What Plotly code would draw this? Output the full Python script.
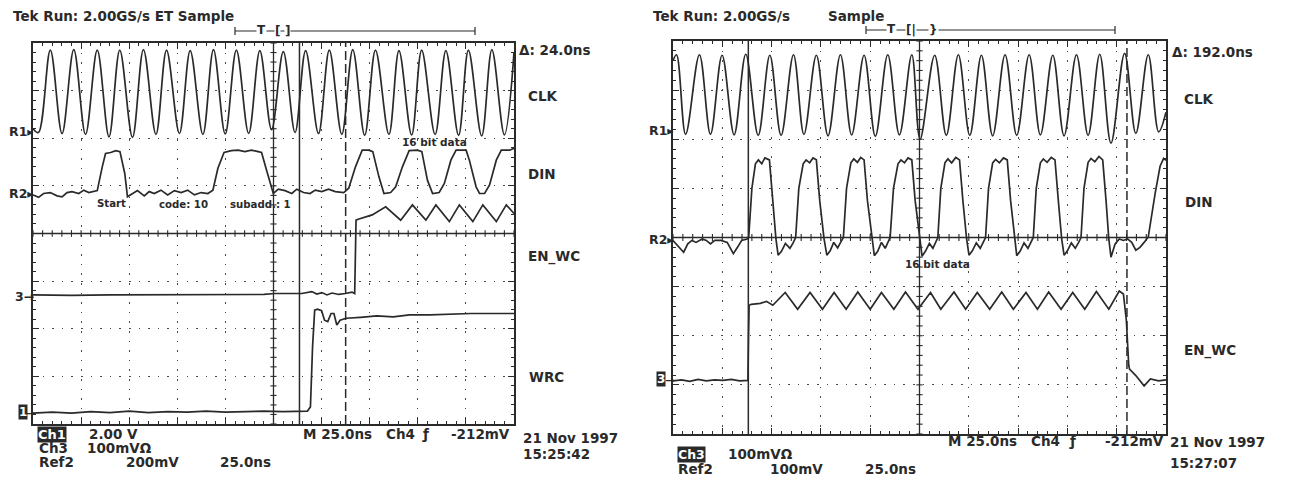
import numpy as np
import plotly.graph_objects as go

W, H = 1290, 481
OFF = 8                      # the page body margin that the browser puts round the figure
FW, FH = W - OFF, H - OFF    # figure size that fits the window exactly
INK = "#2a2a2a"
FONT = "DejaVu Sans"

# ---------------- data (time in ns, 25 ns/div; amplitude in screen divisions, centre = 0) -------------
# Left capture: Tek Run 2.00GS/s ET Sample
L_CLK_T = [0, 2.8, 9.0, 15.1, 21.2, 27.3, 33.4, 39.5, 45.1, 51.7, 57.4, 63.9, 69.4, 76.1, 81.7, 88.3,
           93.8, 99.9, 105.7, 112.1, 117.9, 124.0, 130.1, 136.2, 141.7, 148.4, 154.0, 160.5, 166.2,
           172.4, 178.0, 185.0, 190.2, 196.8, 202.0, 209.0, 214.6, 221.2, 226.3, 233.2, 238.5, 245.0, 250]
L_CLK_V = [2.20, 2.12, 3.85, 2.10, 3.86, 2.08, 3.85, 2.03, 3.85, 2.02, 3.86, 2.08, 3.85, 2.10, 3.84, 2.08,
           3.86, 2.09, 3.85, 2.10, 3.84, 2.18, 3.82, 2.12, 3.84, 2.10, 3.85, 2.08, 3.86,
           2.06, 3.85, 2.08, 3.84, 2.07, 3.85, 2.08, 3.84, 2.06, 3.85, 2.05, 3.86, 2.07, 3.80]

L_DIN_T = [0, 2.9, 5.5, 9.0, 12.5, 15.1, 17.7, 20.3, 23.8, 26.4, 29.0, 33.4, 36.0, 37.7, 40.4, 43.0,
           45.2, 47.7, 49.1, 51.7, 54.3, 57.8, 60.4, 63.0, 66.5, 70.0, 73.5, 77.0, 80.4, 83.9, 87.4,
           90.9, 93.5, 96.1, 99.3, 103.1, 106.6, 110.1, 113.5, 117.0, 118.8, 121.4, 124.9, 127.5,
           131.0, 134.5, 137.1, 140.6, 144.0, 146.7, 150.1, 153.6, 157.1, 161.5, 164.1, 167.6, 171.1,
           174.5, 176.6, 179.8, 182.4, 185.9, 188.5, 192.0, 195.5, 199.8, 202.1, 205.0, 207.7, 211.1,
           213.8, 217.2, 219.9, 225.1, 226.8, 230.3, 232.1, 234.7, 237.3, 240.8, 243.4, 247.7, 250]
L_DIN_V = [0.81, 0.76, 0.84, 0.86, 0.79, 0.77, 0.86, 0.88, 0.84, 0.91, 0.86, 0.90, 1.40, 1.68, 1.70, 1.74,
           1.72, 1.26, 0.77, 0.84, 0.90, 0.79, 0.88, 0.84, 0.91, 0.81, 0.90, 0.86, 0.91, 0.81, 0.86,
           0.84, 0.91, 1.37, 1.70, 1.74, 1.75, 1.72, 1.75, 1.72, 1.70, 1.33, 0.84, 0.93,
           0.90, 0.84, 0.93, 0.86, 0.84, 0.91, 0.88, 0.93, 0.88, 0.86, 0.95, 1.40, 1.75,
           1.75, 1.72, 1.19, 0.84, 0.86, 0.98, 1.40, 1.74, 1.75, 1.72, 1.12, 0.84, 0.86,
           1.05, 1.54, 1.75, 1.75, 1.54, 0.98, 0.84, 0.84, 1.02, 1.54, 1.75, 1.75, 1.79]

L_EN_T = [0, 20, 40, 60, 80, 100, 120, 125.8, 139.7, 144.9, 147.5, 150.1, 152.8, 155.4, 158.9, 162.3,
          165.8, 167.2, 167.9, 169.0, 172.8, 176.3, 183.3, 191.1, 197.2, 204.2, 209.4, 216.4, 221.6,
          228.6, 233.8, 240.8, 246.0, 250]
L_EN_V = [-1.29, -1.30, -1.29, -1.29, -1.28, -1.29, -1.28, -1.26, -1.26, -1.22, -1.27, -1.24, -1.29, -1.25,
          -1.28, -1.26, -1.23, -1.26, 0.28, 0.30, 0.34, 0.39, 0.56, 0.28, 0.60, 0.28, 0.60, 0.25, 0.60,
          0.25, 0.60, 0.25, 0.60, 0.42]

L_WRC_T = [0, 10, 20, 30, 40, 50, 60, 70, 80, 90, 100, 110, 120, 130, 139.3, 142.6, 144.2, 145.3, 146.4,
           147.9, 150.0, 151.5, 153.2, 154.9, 156.4, 157.9, 159.6, 162.8, 170.2, 178.7, 187.2, 195.7,
           206.3, 217.0, 227.6, 238.3, 250]
L_WRC_V = [-3.77, -3.75, -3.77, -3.74, -3.76, -3.73, -3.76, -3.74, -3.75, -3.73, -3.75, -3.74, -3.73, -3.74,
           -3.74, -3.73, -3.64, -2.38, -1.61, -1.59, -1.62, -1.82, -1.85, -1.68, -1.68, -1.92, -1.82,
           -1.78, -1.76, -1.73, -1.75, -1.71, -1.71, -1.69, -1.68, -1.68, -1.68]

L_CURSORS = [138.5, 162.5]          # ns  (Δ: 24.0ns)

# Right capture: Tek Run 2.00GS/s Sample
R_CLK_T = [0, 1.8, 6.4, 13.4, 19.0, 24.9, 31.0, 36.9, 43.2, 49.1, 54.8, 61.1, 66.4, 72.7, 78.6, 84.9,
           90.6, 96.9, 102.6, 108.9, 114.8, 121.1, 125.3, 132.7, 138.6, 144.7, 150.5, 156.4, 162.1,
           168.4, 174.3, 180.6, 186.3, 192.6, 198.3, 204.6, 210.5, 216.4, 222.1, 229.0, 234.7, 241.0,
           246.3, 250]
R_CLK_V = [3.60, 3.72, 2.10, 3.72, 2.10, 3.71, 2.09, 3.73, 2.08, 3.71, 2.08, 3.72, 2.10, 3.71, 2.07, 3.72,
           2.09, 3.71, 2.06, 3.72, 2.09, 3.72, 2.00, 3.71, 2.08, 3.72, 2.08, 3.71, 2.07,
           3.72, 2.08, 3.72, 2.09, 3.71, 2.07, 3.72, 2.08, 3.73, 1.92, 3.75, 2.12, 3.72,
           2.15, 2.55]

R_DIN_T = [0, 3.3, 5.4, 7.5, 9.6, 11.7, 14.8, 16.9, 19.0, 21.2, 24.3, 27.5, 30.6, 32.7, 34.8, 37.6, 38.4,
           40.0, 41.8, 43.3, 45.0, 46.6, 48.9, 50.6, 52.2, 53.3, 55.0, 57.0, 59.3, 60.8, 62.2,
           63.8, 66.0, 67.5, 69.3, 71.0, 72.7, 74.4, 76.6, 78.0, 79.7, 81.5, 83.5, 85.0, 86.4,
           88.0, 90.2, 91.7, 93.5, 95.2, 96.9, 98.6, 100.8, 102.1, 103.8, 105.7, 107.6, 109.0, 110.1,
           111.8, 114.1, 115.6, 117.4, 119.2, 121.1, 122.8, 125.0, 126.3, 128.0, 130.0, 131.8, 133.2, 134.3,
           135.8, 137.9, 139.4, 141.3, 143.4, 145.3, 147.0, 148.9, 150.1, 151.8, 153.8, 155.8, 157.3, 158.5,
           160.0, 162.1, 163.6, 165.5, 167.6, 169.5, 171.2, 173.1, 174.3, 176.0, 178.0, 180.0, 181.5, 182.7,
           184.2, 186.3, 187.8, 189.7, 191.8, 193.7, 195.4, 197.1, 198.3, 200.0, 202.0, 204.0, 205.7, 206.9,
           208.4, 210.5, 212.0, 213.9, 216.0, 217.9, 219.6, 221.0, 222.1, 224.2, 226.3, 228.4, 230.5,
           232.6, 234.7, 236.8, 238.9, 241.0, 244.5, 247.0, 248.8, 250]
R_DIN_V = [-0.06, -0.20, -0.30, -0.13, -0.06, -0.10, -0.03, -0.06, -0.13, -0.06, -0.06, -0.10, -0.33, -0.20,
           -0.06, -0.03, 0.01,
           1.00, 1.50, 1.58, 1.50, 1.62, 1.58, 0.75, -0.03, -0.36, -0.28, -0.12, -0.22, -0.12, 0.00,
           1.00, 1.50, 1.58, 1.52, 1.62, 1.58, 0.75, -0.03, -0.36, -0.27, -0.10, -0.21, -0.10, 0.00,
           1.00, 1.52, 1.60, 1.53, 1.63, 1.58, 0.75, -0.03, -0.37, -0.28, -0.10, -0.22, -0.10, 0.00,
           1.00, 1.50, 1.58, 1.52, 1.62, 1.58, 0.75, -0.03, -0.38, -0.28, -0.12, -0.22, -0.10, 0.00,
           1.00, 1.52, 1.60, 1.52, 1.63, 1.58, 0.75, -0.03, -0.36, -0.27, -0.11, -0.22, -0.10, 0.00,
           1.00, 1.52, 1.59, 1.52, 1.62, 1.58, 0.75, -0.03, -0.37, -0.28, -0.11, -0.22, -0.10, 0.00,
           1.00, 1.52, 1.60, 1.53, 1.63, 1.58, 0.75, -0.03, -0.36, -0.27, -0.11, -0.22, -0.10, 0.00,
           1.00, 1.53, 1.61, 1.54, 1.65, 1.58, 0.75, -0.03, -0.40, -0.13, -0.03, -0.06, -0.03,
           -0.10, -0.26, -0.20, -0.10, 0.01, 0.90, 1.45, 1.61, 1.57]

R_EN_T = [0, 4.3, 8.5, 12.7, 16.9, 21.1, 25.3, 29.6, 33.8, 38.0,
          38.3, 38.6, 39.7, 44.3, 47.4, 50.6,
          56.9, 63.2, 69.5, 75.8, 81.7, 87.8, 93.7, 100.0, 105.7, 112.0, 117.9, 124.2, 130.6, 135.8,
          142.5, 148.4, 154.3, 160.6, 166.7, 172.6, 179.0, 184.8, 190.5, 196.8, 202.7, 208.8, 214.7,
          221.0, 226.3,
          228.4, 229.9, 230.5, 231.1, 231.5, 234.7, 238.9, 242.1, 246.3, 250]
R_EN_V = [-2.92, -2.90, -2.93, -2.89, -2.92, -2.90, -2.91, -2.89, -2.92, -2.91,
          -2.00, -1.38, -1.36, -1.34, -1.30, -1.38,
          -1.12, -1.46, -1.12, -1.46, -1.12, -1.46, -1.11, -1.46, -1.12, -1.46, -1.11, -1.46, -1.12, -1.46,
          -1.11, -1.46, -1.12, -1.46, -1.11, -1.46, -1.12, -1.46, -1.11, -1.46, -1.12, -1.46, -1.10,
          -1.46, -1.09,
          -1.15, -1.69, -2.24, -2.60, -2.68, -2.81, -3.02, -2.88, -2.92, -2.90]

R_CURSORS = [38.2, 230.2]           # ns  (Δ: 192.0ns)

T_SPAN, TIME_PER_DIV, V_HALF = 250, 25, 4


def px(x):
    return (x - OFF) / FW


def py(y):
    return 1 - (y - OFF) / FH


# ---------------- figure -------------
fig = go.Figure()

panels = [
    dict(xa="x", ya="y", dom_x=(33, 514), dom_y=(43, 424),
         traces=[(L_CLK_T, L_CLK_V, "spline"), (L_DIN_T, L_DIN_V, "linear"),
                 (L_EN_T, L_EN_V, "linear"), (L_WRC_T, L_WRC_V, "linear")],
         cursors=L_CURSORS),
    dict(xa="x2", ya="y2", dom_x=(673, 1166), dom_y=(41, 434),
         traces=[(R_CLK_T, R_CLK_V, "spline"), (R_DIN_T, R_DIN_V, "linear"),
                 (R_EN_T, R_EN_V, "linear")],
         cursors=R_CURSORS),
]

shapes = []
for i, p in enumerate(panels):
    xa, ya = p["xa"], p["ya"]
    # centre-line graticule ticks
    tx, ty = [], []
    for t in np.arange(0, T_SPAN + 0.001, TIME_PER_DIV / 5):
        tx += [t, t, None]
        ty += [-0.07, 0.07, None]
    for v in np.arange(-V_HALF, V_HALF + 0.001, 0.2):
        tx += [T_SPAN / 2 - 1.6, T_SPAN / 2 + 1.6, None]
        ty += [v, v, None]
    fig.add_trace(go.Scatter(x=tx, y=ty, mode="lines", line=dict(color=INK, width=1.1),
                             xaxis=xa, yaxis=ya, hoverinfo="skip", showlegend=False))
    for (tt, vv, shp) in p["traces"]:
        line = dict(color=INK, width=1.7, shape=shp)
        if shp == "spline":
            line["smoothing"] = 1.0
        fig.add_trace(go.Scatter(x=tt, y=vv, mode="lines", line=line, xaxis=xa, yaxis=ya,
                                 hoverinfo="skip", showlegend=False))
    # centre cross
    shapes.append(dict(type="line", xref=xa, yref=f"{ya} domain", x0=T_SPAN / 2, x1=T_SPAN / 2, y0=0, y1=1,
                       line=dict(color=INK, width=1.3)))
    shapes.append(dict(type="line", xref=f"{xa} domain", yref=ya, x0=0, x1=1, y0=0, y1=0,
                       line=dict(color=INK, width=1.3)))
    # cursors
    c0, c1 = p["cursors"]
    shapes.append(dict(type="line", xref=xa, yref=f"{ya} domain", x0=c0, x1=c0, y0=0, y1=1,
                       line=dict(color=INK, width=1.5)))
    shapes.append(dict(type="line", xref=xa, yref=f"{ya} domain", x0=c1, x1=c1, y0=0, y1=1,
                       line=dict(color=INK, width=1.5, dash="9px,4px")))


def ax(domain_px, is_x, anchor):
    if is_x:
        dom = [px(domain_px[0]), px(domain_px[1])]
    else:
        dom = [py(domain_px[1]), py(domain_px[0])]
    return dict(domain=dom, anchor=anchor, range=[0, T_SPAN] if is_x else [-V_HALF, V_HALF],
                showticklabels=False, showline=True, linecolor=INK, linewidth=1.6, mirror="ticks",
                ticks="inside", ticklen=6, tickwidth=1.1, tickcolor=INK,
                tick0=0, dtick=TIME_PER_DIV if is_x else 1,
                showgrid=True, gridcolor="#4a4a4a", gridwidth=1.3, griddash="1.5px,8.1px",
                zeroline=False, fixedrange=True,
                minor=dict(dtick=TIME_PER_DIV / 5 if is_x else 0.2, ticks="inside", ticklen=3,
                           tickcolor=INK, tickwidth=1, showgrid=False))


anns = []


def T(x, y, s, size=13.5, anchor="left", color=INK, bg=None):
    d = dict(x=px(x), y=py(y), xref="paper", yref="paper", text=f"<b>{s}</b>", showarrow=False,
             xanchor=anchor, yanchor="middle", font=dict(family=FONT, size=size, color=color), borderpad=0)
    if bg:
        d["bgcolor"] = bg
    anns.append(d)


def trig_bar(x0, x1, y, t_x, b1, b1_x, b2, b2_x):
    shapes.append(dict(type="line", xref="paper", yref="paper", x0=px(x0), x1=px(x1), y0=py(y), y1=py(y),
                       line=dict(color=INK, width=1.2)))
    for xe in (x0, x1):
        shapes.append(dict(type="line", xref="paper", yref="paper", x0=px(xe), x1=px(xe),
                           y0=py(y - 4), y1=py(y + 4), line=dict(color=INK, width=1.2)))
    T(t_x, y - 1, "T", 12, "center", bg="white")
    T(b1_x, y, b1, 12, "center", bg="white")
    T(b2_x, y, b2, 12, "center", bg="white")


# ----- left texts
T(12, 16, "Tek Run: 2.00GS/s ET Sample")
trig_bar(235, 475, 31, 261, "[", 277, "]", 287)
T(518, 50, "Δ: 24.0ns")
T(527, 96, "CLK")
T(527, 174, "DIN")
T(527, 256, "EN_WC")
T(528, 377, "WRC")
T(35, 131, "R1▸", 12.5, "right")
T(35, 193, "R2▸", 12.5, "right")
T(35, 296, "3→", 12.5, "right")
T(23, 412, "1", 12, "center", color="white", bg="#2a2a2a")
T(35, 413, "→", 11, "right")
T(434, 142, "16 bit data", 10.5, "center")
T(111, 203, "Start", 10.2, "center")
T(183, 204, "code: 10", 10.2, "center")
T(260, 204, "subadd.: 1", 10.2, "center")
T(37, 434, "Ch1", 13, "left", color="white", bg="#2a2a2a")
T(88, 434, "2.00 V")
T(38, 448, "Ch3")
T(86, 448, "100mVΩ")
T(38, 462, "Ref2")
T(125, 462, "200mV")
T(219, 462, "25.0ns")
T(302, 434, "M 25.0ns")
T(385, 434, "Ch4")
T(421, 434, "ƒ")
T(511, 434, "-212mV", anchor="right")
T(522, 438, "21 Nov 1997")
T(522, 454, "15:25:42")

# ----- right texts
T(652, 16, "Tek Run: 2.00GS/s")
T(827, 16, "Sample")
trig_bar(866, 1115, 30, 891, "[|", 911, "}", 934)
T(1171, 52, "Δ: 192.0ns")
T(1183, 99, "CLK")
T(1184, 202, "DIN")
T(1183, 350, "EN_WC")
T(675, 130, "R1▸", 12.5, "right")
T(675, 239, "R2▸", 12.5, "right")
T(661, 379, "3", 12, "center", color="white", bg="#2a2a2a")
T(675, 380, "→", 11, "right")
T(937, 264, "16 bit data", 10.5, "center")
T(947, 441, "M 25.0ns")
T(1030, 441, "Ch4")
T(1068, 441, "ƒ")
T(1165, 441, "-212mV", anchor="right")
T(1169, 442, "21 Nov 1997")
T(1169, 463, "15:27:07")
T(677, 454, "Ch3", 12.5, "left", color="white", bg="#2a2a2a")
T(727, 454, "100mVΩ")
T(677, 469, "Ref2")
T(769, 469, "100mV")
T(864, 469, "25.0ns")

fig.update_layout(
    width=FW, height=FH, margin=dict(l=0, r=0, t=0, b=0),
    paper_bgcolor="white", plot_bgcolor="white", showlegend=False,
    xaxis=ax(panels[0]["dom_x"], True, "y"), yaxis=ax(panels[0]["dom_y"], False, "x"),
    xaxis2=ax(panels[1]["dom_x"], True, "y2"), yaxis2=ax(panels[1]["dom_y"], False, "x2"),
    shapes=shapes, annotations=anns,
)

fig.write_html("out.html")
